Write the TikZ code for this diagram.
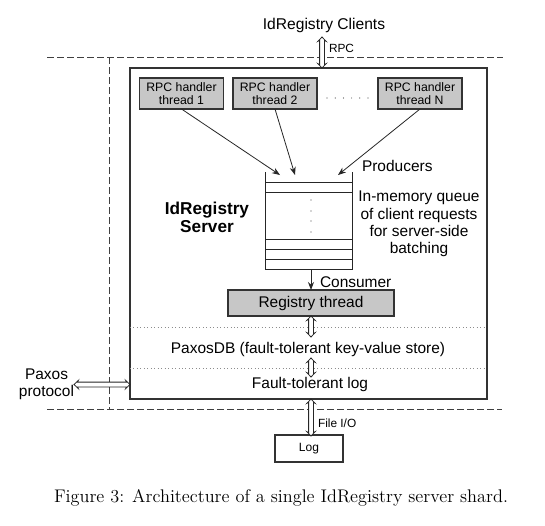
\documentclass[tikz,border=0pt]{standalone}
\usepackage{fontspec}
\newfontfamily\arial{Liberation Sans}
\usetikzlibrary{arrows.meta,calc}
\newcommand\hollowarr[2]{%
  \path let \p1=#1, \p2=#2, \n1={atan2(\y2-\y1,\x2-\x1)}, \n2={veclen(\x2-\x1,\y2-\y1)} in
    \pgfextra{\xdef\haang{\n1}\xdef\halen{\n2}\xdef\hax{\x1}\xdef\hay{\y1}};
  \begin{scope}[shift={(\hax,\hay)}, rotate=\haang]
    \draw[fill=white, draw=black!85, line width=0.6pt, line join=miter]
      (0pt,0pt) -- (3.2pt,3pt) -- (2.6pt,1.8pt) -- ({\halen-2.6pt},1.8pt) -- ({\halen-3.2pt},3pt)
      -- ({\halen},0pt) -- ({\halen-3.2pt},-3pt) -- ({\halen-2.6pt},-1.8pt) -- (2.6pt,-1.8pt)
      -- (3.2pt,-3pt) -- cycle;
  \end{scope}}
\begin{document}
\begin{tikzpicture}[x=0.75pt,y=-0.75pt,
  every node/.style={inner sep=0pt, outer sep=0pt},
  dashline/.style={dash pattern=on 5pt off 2.5pt, line width=0.75pt, black!75},
  thr/.style={draw=black!80, fill=black!22, line width=0.8pt, minimum width=63pt, minimum height=23.25pt, align=center, font=\arial\fontsize{9.2}{10}\selectfont},
  maintext/.style={font=\arial\fontsize{11.6}{13}\selectfont},
  smalltext/.style={font=\arial\fontsize{8.9}{10}\selectfont},
  arr/.style={-{Stealth[length=6pt,width=4.5pt]}, line width=0.6pt, draw=black!85},
  qline/.style={line width=0.75pt, draw=black!85}
]
\useasboundingbox (0,0) rectangle (545,525);
\fill[white] (0,0) rectangle (545,525);

% dashed boundary
\coordinate (dtl) at (47,57);
\coordinate (dtr) at (503,57);
\coordinate (dbl) at (47,409);
\coordinate (dbr) at (502,409);
\coordinate (dvt) at (109,57);
\coordinate (dvb) at (109,409);
\draw[dashline] (dtl) -- (dtr);
\draw[dashline] (dbl) -- (dbr);
\draw[dashline] (dvt) -- (dvb);

% server box
\node[draw=black!80, line width=1pt, minimum width=267.75pt, minimum height=248.25pt] (server) at (308.5,233.5) {};

% clients
\node[font=\arial\fontsize{11.7}{13}\selectfont] (clients) at (324,25) {IdRegistry Clients};
\coordinate (rpctop) at (322,37);
\hollowarr{(rpctop)}{(rpctop |- server.north)}
\node[smalltext, anchor=west] (rpcl) at (329,48) {RPC};

% handler threads
\node[thr] (t1) at (181.5,93.5) {RPC handler\\thread 1};
\node[thr] (t2) at (275,93.5) {RPC handler\\thread 2};
\node[thr] (tN) at (420,93.5) {RPC handler\\thread N};
\foreach \i in {0,...,5} \fill[black!70] (327+8.2*\i,98) circle (0.45pt);

% queue
\draw[qline] (265,172) -- (265,269) -- (352,269) -- (352,172);
\foreach \yy in {182,192,239,249,259} \draw[qline] (265,\yy) -- (352,\yy);
\foreach \yy in {200,211,221,232} \fill[black!70] (311,\yy) circle (0.45pt);
\coordinate (q1) at (280,175);
\coordinate (q2) at (295,175);
\coordinate (q3) at (338,175);
\coordinate (qbot) at (311,269);
\draw[arr] (t1.south) -- (q1);
\draw[arr] (t2.south) -- (q2);
\draw[arr] (tN.south) -- (q3);

\node[maintext, anchor=west] (prod) at (362,166) {Producers};
\node[font=\arial\bfseries\fontsize{12.9}{13.5}\selectfont, align=center] (srv) at (207,217) {IdRegistry\\Server};
\node[maintext, align=center] (qtext) at (419,224) {In-memory queue\\of client requests\\for server-side\\batching};

% registry thread
\node[draw=black!80, fill=black!22, line width=0.8pt, minimum width=124.5pt, minimum height=19.5pt, maintext] (reg) at (311,303) {Registry thread};
\draw[arr] (qbot) -- (reg.north);
\node[maintext, anchor=west] (cons) at (320,282) {Consumer};

% layers
\draw[dotted, black!45, line width=0.6pt] (server.west |- 0,327) -- (server.east |- 0,327);
\draw[dotted, black!45, line width=0.6pt] (server.west |- 0,368) -- (server.east |- 0,368);
\node[maintext] (paxosdb) at (308,349) {PaxosDB (fault-tolerant key-value store)};
\node[maintext] (ftlog) at (310,384) {Fault-tolerant log};
\coordinate (pdb1) at (311,337);
\coordinate (pdb2) at (311,358);
\coordinate (ftl1) at (311,377);
\hollowarr{(reg.south)}{(pdb1)}
\hollowarr{(pdb2)}{(ftl1)}

% paxos protocol
\node[font=\arial\fontsize{11.6}{12.75}\selectfont, align=center] (pp) at (46.5,384.5) {Paxos\\protocol};
\hollowarr{(pp.east)}{(pp.east -| server.west)}

% log
\node[draw=black!80, line width=0.8pt, minimum width=51pt, minimum height=20.25pt, font=\arial\fontsize{9}{10}\selectfont] (log) at (309,448.5) {Log};
\coordinate (fio) at (311,436);
\hollowarr{(server.south -| fio)}{(fio)}
\node[smalltext, anchor=west] (fiol) at (318,423) {File I/O};

% caption
\node[font=\fontsize{13.7}{16}\selectfont] (cap) at (281,498) {Figure 3: Architecture of a single IdRegistry server shard.};
\end{tikzpicture}
\end{document}
